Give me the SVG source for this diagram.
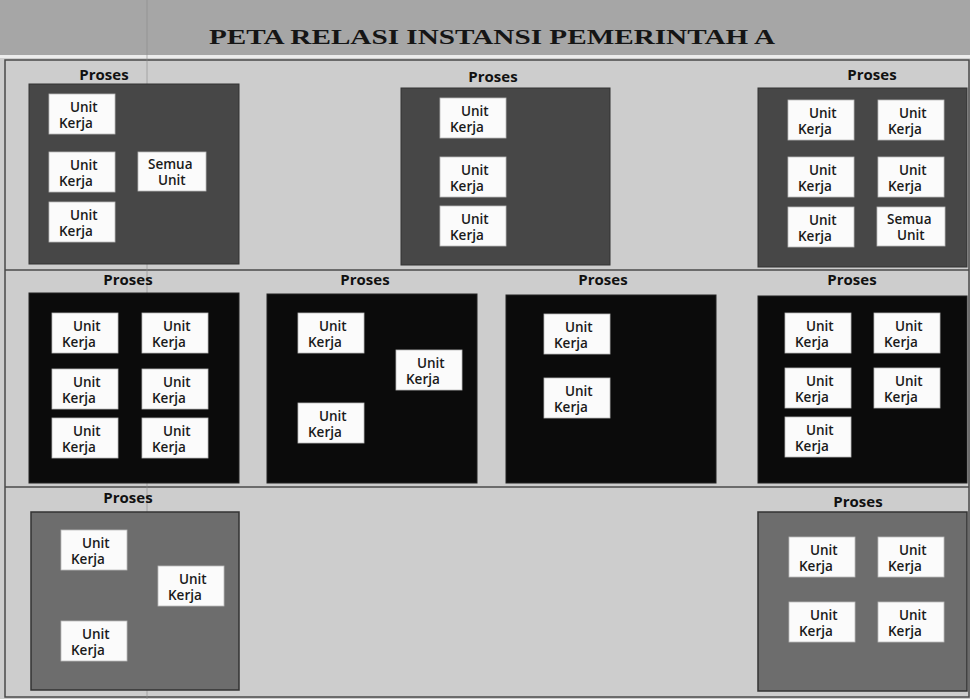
<svg xmlns="http://www.w3.org/2000/svg" width="970" height="699" viewBox="0 0 970 699">
<style>
.bg{fill:#cdcdcd}
.band{fill:#a6a6a6}
.title{font-family:"Liberation Serif","Times New Roman",serif;font-size:20.5px;font-weight:bold;fill:#151515}
.frame{fill:none;stroke:#4a4a4a;stroke-width:1.5}
.scan{stroke:#8a8a8a;stroke-width:1;opacity:0.6}
.p1{fill:#474747;stroke:#333;stroke-width:1}
.p2{fill:#0b0b0b;stroke:#222;stroke-width:1}
.p3{fill:#6d6d6d;stroke:#333;stroke-width:1.5}
.lbl{font-family:"Open Sans","Liberation Sans",sans-serif;font-size:15px;font-weight:bold;fill:#111;text-anchor:middle}
.u{fill:#fbfbfb;stroke:#bbb;stroke-width:0.8}
.ut{font-family:"Open Sans","Liberation Sans",sans-serif;font-size:13.5px;font-weight:600;fill:#1a1a1a}
</style>
<defs>
<g id="uk">
<rect class="u" x="0" y="0" width="66" height="40"/>
<text class="ut" x="21" y="18">Unit</text>
<text class="ut" x="10" y="34">Kerja</text>
</g>
<g id="su">
<rect class="u" x="0" y="0" width="68" height="39"/>
<text class="ut" x="10" y="17">Semua</text>
<text class="ut" x="20" y="33">Unit</text>
</g>
</defs>
<rect class="bg" x="0" y="0" width="970" height="699"/>
<rect class="band" x="0" y="0" width="970" height="55"/>
<rect x="0" y="55" width="970" height="3" fill="#ececec"/>
<text class="title" x="209" y="44" textLength="566" lengthAdjust="spacingAndGlyphs">PETA RELASI INSTANSI PEMERINTAH A</text>
<g id="frame">
<rect class="frame" x="5" y="60" width="964" height="637"/>
<line class="frame" x1="5" y1="270" x2="969" y2="270"/>
<line class="frame" x1="5" y1="487" x2="969" y2="487"/>
</g>
<line class="scan" x1="147" y1="0" x2="147" y2="699"/>

<g id="proses1">
<text class="lbl" x="104" y="80">Proses</text>
<rect class="p1" x="29" y="84" width="210" height="180"/>
<use href="#uk" x="49" y="94"/>
<use href="#uk" x="49" y="152"/>
<use href="#uk" x="49" y="202"/>
<use href="#su" x="138" y="152"/>
</g>
<g id="proses2">
<text class="lbl" x="493" y="82">Proses</text>
<rect class="p1" x="401" y="88" width="209" height="177"/>
<use href="#uk" x="440" y="98"/>
<use href="#uk" x="440" y="157"/>
<use href="#uk" x="440" y="206"/>
</g>
<g id="proses3">
<text class="lbl" x="872" y="80">Proses</text>
<rect class="p1" x="758" y="88" width="209" height="179"/>
<use href="#uk" x="788" y="100"/>
<use href="#uk" x="878" y="100"/>
<use href="#uk" x="788" y="157"/>
<use href="#uk" x="878" y="157"/>
<use href="#uk" x="788" y="207"/>
<use href="#su" x="877" y="207"/>
</g>

<g id="proses4">
<text class="lbl" x="128" y="285">Proses</text>
<rect class="p2" x="29" y="293" width="210" height="190"/>
<use href="#uk" x="52" y="313"/>
<use href="#uk" x="142" y="313"/>
<use href="#uk" x="52" y="369"/>
<use href="#uk" x="142" y="369"/>
<use href="#uk" x="52" y="418"/>
<use href="#uk" x="142" y="418"/>
</g>
<g id="proses5">
<text class="lbl" x="365" y="285">Proses</text>
<rect class="p2" x="267" y="294" width="210" height="189"/>
<use href="#uk" x="298" y="313"/>
<use href="#uk" x="396" y="350"/>
<use href="#uk" x="298" y="403"/>
</g>
<g id="proses6">
<text class="lbl" x="603" y="285">Proses</text>
<rect class="p2" x="506" y="295" width="210" height="188"/>
<use href="#uk" x="544" y="314"/>
<use href="#uk" x="544" y="378"/>
</g>
<g id="proses7">
<text class="lbl" x="852" y="285">Proses</text>
<rect class="p2" x="758" y="296" width="209" height="187"/>
<use href="#uk" x="785" y="313"/>
<use href="#uk" x="874" y="313"/>
<use href="#uk" x="785" y="368"/>
<use href="#uk" x="874" y="368"/>
<use href="#uk" x="785" y="417"/>
</g>

<g id="proses8">
<text class="lbl" x="128" y="503">Proses</text>
<rect class="p3" x="31" y="512" width="208" height="178"/>
<use href="#uk" x="61" y="530"/>
<use href="#uk" x="158" y="566"/>
<use href="#uk" x="61" y="621"/>
</g>
<g id="proses9">
<text class="lbl" x="858" y="507">Proses</text>
<rect class="p3" x="758" y="512" width="209" height="179"/>
<use href="#uk" x="789" y="537"/>
<use href="#uk" x="878" y="537"/>
<use href="#uk" x="789" y="602"/>
<use href="#uk" x="878" y="602"/>
</g>
</svg>
